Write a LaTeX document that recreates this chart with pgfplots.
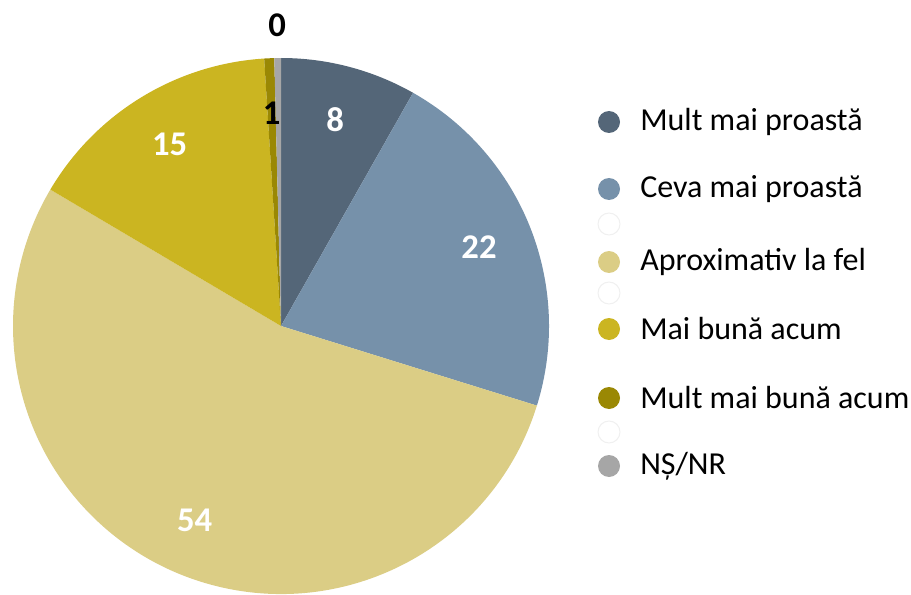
\documentclass[border=0pt]{standalone}
\usepackage{fontspec}
\setmainfont{Carlito}
\usepackage{pgfplots}
\pgfplotsset{compat=1.18}
\usepackage{pgfplotstable}

\definecolor{c1}{HTML}{546678}
\definecolor{c2}{HTML}{7691AA}
\definecolor{c3}{HTML}{DBCD85}
\definecolor{c4}{HTML}{CBB521}
\definecolor{c5}{HTML}{9A8804}
\definecolor{c6}{HTML}{A6A6A6}

% share, shown label, label radius (px), label colour
\pgfplotstableread{
value label lr tc
8.2   8     213 white
21.6  22    213 white
53.7  54    213 white
15.5  15    213 white
0.6   1     213 black
0.4   0     301 black
}\piedata

\begin{document}
\begin{tikzpicture}
\begin{axis}[
    x=0.75pt, y=0.75pt,
    xmin=0, xmax=911, ymin=0, ymax=594,
    hide axis, clip=false,
]
\coordinate (ll) at (axis cs:0,0);
\coordinate (ur) at (axis cs:911,594);
\def\cum{0}
\pgfplotsforeachungrouped \i in {0,...,5}{%
    \pgfplotstablegetelem{\i}{value}\of\piedata \let\v\pgfplotsretval
    \pgfmathsetmacro\a{90-3.6*\cum}
    \pgfmathsetmacro\b{90-3.6*(\cum+\v)}
    \pgfmathsetmacro\cum{\cum+\v}
    \edef\cmd{%
        \noexpand\fill[c\the\numexpr\i+1\relax] (axis cs:281,268) -- ++(\a:201pt)
            arc[start angle=\a, end angle=\b, radius=201pt] -- cycle;
    }\cmd
}
\def\cum{0}
\pgfplotsforeachungrouped \i in {0,...,5}{%
    \pgfplotstablegetelem{\i}{value}\of\piedata \let\v\pgfplotsretval
    \pgfplotstablegetelem{\i}{label}\of\piedata \let\lab\pgfplotsretval
    \pgfplotstablegetelem{\i}{lr}\of\piedata \let\lr\pgfplotsretval
    \pgfplotstablegetelem{\i}{tc}\of\piedata \let\tc\pgfplotsretval
    \pgfmathsetmacro\m{90-3.6*(\cum+\v/2)}
    \pgfmathsetmacro\lx{281+\lr*cos(\m)}
    \pgfmathsetmacro\ly{268+\lr*sin(\m)}
    \pgfmathsetmacro\cum{\cum+\v}
    \edef\cmd{%
        \noexpand\node[text=\tc, font=\noexpand\fontsize{26}{30}\noexpand\selectfont\noexpand\bfseries]
            at (axis cs:\lx,\ly) {\lab};
    }\cmd
}

% legend
\tikzset{lm/.style={circle, inner sep=0pt, minimum size=16.5pt},
         lt/.style={anchor=west, inner sep=0pt, font=\fontsize{24}{28}\selectfont}}
\node[lm, fill=c1] at (axis cs:609,472) {};
\node[lt] at (axis cs:640,472) {Mult mai proastă};
\node[lm, fill=c2] at (axis cs:609,405) {};
\node[lt] at (axis cs:640,405) {Ceva mai proastă};
\node[lm, fill=white, draw=black!6, line width=0.8pt] at (axis cs:609,370) {};
\node[lm, fill=c3] at (axis cs:609,332) {};
\node[lt] at (axis cs:640,332) {Aproximativ la fel};
\node[lm, fill=white, draw=black!6, line width=0.8pt] at (axis cs:609,301) {};
\node[lm, fill=c4] at (axis cs:609,265) {};
\node[lt] at (axis cs:640,265) {Mai bună acum};
\node[lm, fill=c5] at (axis cs:609,196) {};
\node[lt] at (axis cs:640,196) {Mult mai bună acum};
\node[lm, fill=white, draw=black!6, line width=0.8pt] at (axis cs:609,162) {};
\node[lm, fill=c6] at (axis cs:609,128) {};
\node[lt] at (axis cs:640,128) {NȘ/NR};
\end{axis}
\pgfresetboundingbox
\path[use as bounding box] (ll) rectangle (ur);
\end{tikzpicture}
\end{document}
